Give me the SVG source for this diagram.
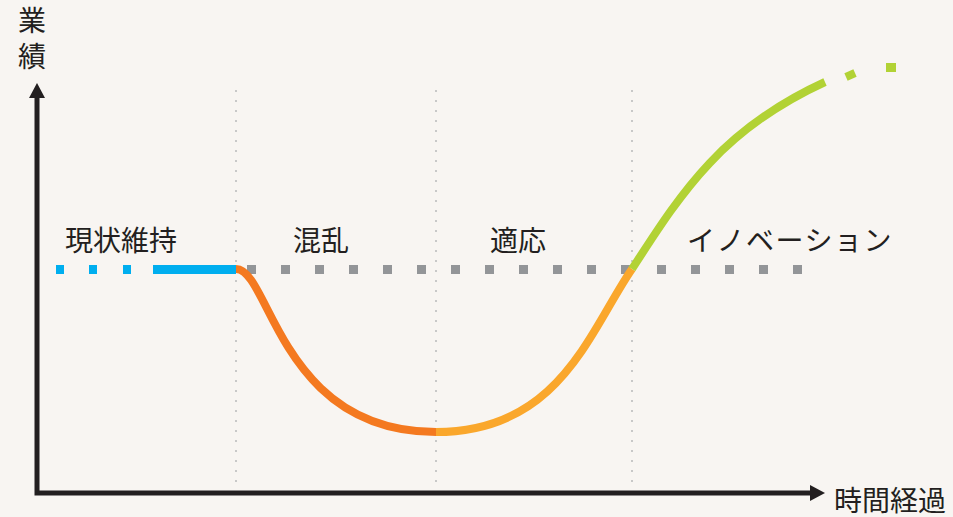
<svg xmlns="http://www.w3.org/2000/svg" width="953" height="517" viewBox="0 0 953 517">
<style>
text{font-family:"Noto Sans CJK JP","Noto Sans",sans-serif;fill:#231f20;font-size:28px}
.grid{stroke:#c8c8c8;stroke-width:2;stroke-dasharray:2 8}
.axis{stroke:#231f20;stroke-width:5;fill:none}
.curve{fill:none;stroke-width:8}
.gsq{fill:#939598}
.bsq{fill:#00aeef}
</style>
<rect width="953" height="517" fill="#f8f5f2"/>
<g id="grid">
<line class="grid" x1="236" y1="90" x2="236" y2="490"/>
<line class="grid" x1="436" y1="90" x2="436" y2="490"/>
<line class="grid" x1="632" y1="90" x2="632" y2="490"/>
</g>
<g id="baseline">
<rect class="bsq" x="56" y="265" width="8" height="9"/>
<rect class="bsq" x="89" y="265" width="8" height="9"/>
<rect class="bsq" x="123" y="265" width="8" height="9"/>
<rect class="bsq" x="153" y="265" width="83" height="9"/>
<rect class="gsq" x="247" y="265" width="9" height="9"/>
<rect class="gsq" x="281" y="265" width="9" height="9"/>
<rect class="gsq" x="315" y="265" width="9" height="9"/>
<rect class="gsq" x="349" y="265" width="9" height="9"/>
<rect class="gsq" x="383" y="265" width="9" height="9"/>
<rect class="gsq" x="417" y="265" width="9" height="9"/>
<rect class="gsq" x="451" y="265" width="9" height="9"/>
<rect class="gsq" x="485" y="265" width="9" height="9"/>
<rect class="gsq" x="519" y="265" width="9" height="9"/>
<rect class="gsq" x="553" y="265" width="9" height="9"/>
<rect class="gsq" x="587" y="265" width="9" height="9"/>
<rect class="gsq" x="621" y="265" width="9" height="9"/>
<rect class="gsq" x="657" y="265" width="9" height="9"/>
<rect class="gsq" x="691" y="265" width="9" height="9"/>
<rect class="gsq" x="725" y="265" width="9" height="9"/>
<rect class="gsq" x="759" y="265" width="9" height="9"/>
<rect class="gsq" x="793" y="265" width="9" height="9"/>
</g>
<g id="connectors">
<path class="curve" stroke="#f47920" d="M236,269 C270,269 280,432 436,432"/>
<path class="curve" stroke="#faa72c" d="M436,432 C560,432 590,330 632,269"/>
<path class="curve" stroke="#b2d235" d="M632,269 C680,195 720,130 825,82"/>
<path class="curve" stroke="#b2d235" d="M846,77 L855,73"/>
<rect x="886" y="63" width="10" height="9" fill="#b2d235"/>
<path class="axis" d="M37,90 L37,493 L815,493" />
<path d="M37,83 L29,98 L45,98 Z" fill="#231f20"/>
<path d="M825,493 L810,485 L810,501 Z" fill="#231f20"/>
</g>
<g id="labels">
<text x="18" y="31">業</text>
<text x="18" y="67">績</text>
<text x="65" y="251">現状維持</text>
<text x="293" y="251">混乱</text>
<text x="490" y="251">適応</text>
<text x="687" y="251" letter-spacing="1.5">イノベーション</text>
<text x="834" y="511" font-size="27.5">時間経過</text>
</g>
</svg>
